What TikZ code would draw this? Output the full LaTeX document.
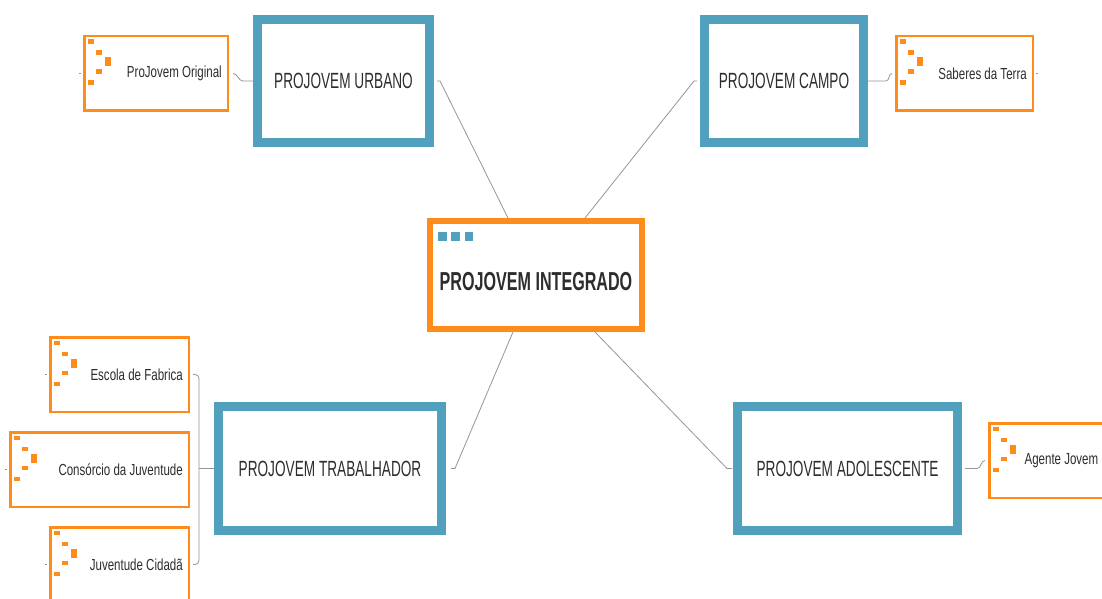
\documentclass[tikz,border=0pt]{standalone}
\usepackage{fontspec}
\setmainfont{Liberation Sans}
\newfontfamily\topicfont[FakeStretch=0.62]{Liberation Sans}
\newfontfamily\leaffont[FakeStretch=0.72]{Liberation Sans}
\usepackage{tikz}
\usetikzlibrary{positioning}

\definecolor{mapblue}{RGB}{80,160,190}
\definecolor{maporange}{RGB}{255,140,26}
\definecolor{maptext}{RGB}{45,45,45}
\definecolor{mapline}{RGB}{150,150,150}

\begin{document}
\begin{tikzpicture}[
        x=1pt, y=-1pt,
        root/.style={
            rectangle,
            draw=maporange,
            line width=6pt,
            fill=white,
            minimum width=212pt,
            minimum height=108pt,
            text height=31pt,
            text depth=0pt,
            text=maptext,
            font=\topicfont\bfseries\fontsize{26}{30}\selectfont
        },
        topic/.style={
            rectangle,
            draw=mapblue,
            line width=9pt,
            fill=white,
            minimum height=123pt,
            text=maptext,
            font=\topicfont\fontsize{22}{26}\selectfont
        },
        leaf/.style={
            rectangle,
            draw=maporange,
            line width=2.5pt,
            fill=white,
            minimum height=74.5pt,
            inner xsep=6pt,
            align=flush right,
            text=maptext,
            font=\leaffont\fontsize{16}{19}\selectfont
        },
        link/.style={
            draw=mapline,
            line width=0.8pt
        },
        stub/.style={
            draw=mapline,
            line width=0.8pt
        },
        leaficon/.pic={
            \fill [maporange] (5,4.5) rectangle (10.5,9);
            \fill [maporange] (13,15.5) rectangle (18.5,20);
            \fill [maporange] (21.5,22.5) rectangle (27.5,31.5);
            \fill [maporange] (13,34.5) rectangle (18.5,39);
            \fill [maporange] (5,45.5) rectangle (10.5,50);
        }
    ]
        \path [use as bounding box, fill=white] (0,0) rectangle (1102,599);

        % central topic and the four programmes
        \node (central) [root] at (536,275) {PROJOVEM INTEGRADO};
        \node (urbano) [topic, minimum width=172pt] at (343.5,81) {PROJOVEM URBANO};
        \node (campo) [topic, minimum width=159pt] at (784,81) {PROJOVEM CAMPO};
        \node (trabalhador) [topic, minimum width=223pt, minimum height=124pt] at (330,468.5) {PROJOVEM TRABALHADOR};
        \node (adolescente) [topic, minimum width=220pt, minimum height=124pt] at (847.5,468.5) {PROJOVEM ADOLESCENTE};

        \foreach \i in {0,1,2}
            \fill [mapblue] (central.north west) ++(11+13.3*\i,14) rectangle ++(8.5,8.5);

        % sub-programmes
        \node (original) [leaf, text width=131.5pt, left=24pt of urbano, yshift=7.5pt] {ProJovem Original};
        \node (saberes) [leaf, text width=124.5pt, right=27pt of campo, yshift=7.5pt] {Saberes da Terra};
        \node (agente) [leaf, text width=103pt, right=26pt of adolescente, yshift=8pt] {Agente Jovem};
        \node (escola) [leaf, text width=126.5pt, left=24pt of trabalhador, yshift=94pt] {Escola de Fabrica};
        \node (consorcio) [leaf, text width=166.5pt, left=24pt of trabalhador, yshift=-1pt] {Consórcio da Juventude};
        \node (juventude) [leaf, text width=126.5pt, left=24pt of trabalhador, yshift=-96pt] {Juventude Cidadã};

        \foreach \n in {original, saberes, agente, escola, consorcio, juventude}
            \pic at (\n.north west) {leaficon};

        % links to the centre
        \draw [link] ([xshift=3pt]urbano.east) -- ++(3,0) -- ([xshift=-28pt]central.north);
        \draw [link] ([xshift=-3pt]campo.west) -- ++(-3,0) -- ([xshift=49pt]central.north);
        \draw [link] ([xshift=5pt]trabalhador.east) -- ++(4,0) -- ([xshift=-23pt]central.south);
        \draw [link] ([xshift=59pt]central.south) -- ([xshift=-6pt]adolescente.west) -- ([xshift=-1pt]adolescente.west);

        % links to the sub-programmes
        \draw [link] (urbano.west) -- ++(-10,0) to[out=180, in=0] ([xshift=4pt]original.east);
        \draw [link] (campo.east) -- ++(18,0) to[out=0, in=180] ([xshift=-3pt]saberes.west);
        \draw [link] ([xshift=3pt]adolescente.east) -- ++(12,0) to[out=0, in=180] ([xshift=-3pt]agente.west);
        \draw [link, rounded corners=4pt] ([xshift=3pt]escola.east) -| ([xshift=9pt]juventude.east) -- ([xshift=3pt]juventude.east);
        \draw [link] (trabalhador.west) -- ([xshift=9pt]consorcio.east |- trabalhador.west);

        % collapsed branches
        \draw [stub] ([xshift=-2pt]original.west) -- ++(-2,0);
        \draw [stub] ([xshift=2pt]saberes.east) -- ++(2,0);
        \draw [stub] ([xshift=-2pt]escola.west) -- ++(-2,0);
        \draw [stub] ([xshift=-2pt]consorcio.west) -- ++(-2,0);
        \draw [stub] ([xshift=-2pt]juventude.west) -- ++(-2,0);

    \end{tikzpicture}
\end{document}
